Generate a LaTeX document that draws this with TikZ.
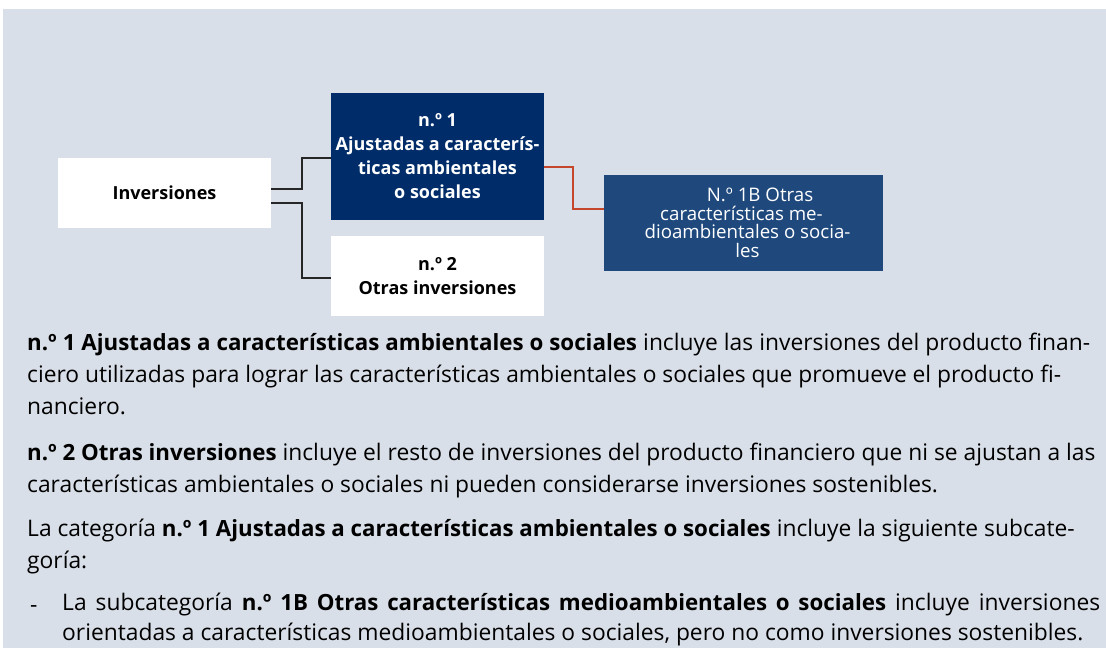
\documentclass[tikz,border=0pt]{standalone}
\usepackage{fontspec}
\setmainfont{Open Sans}
\usepackage{tikz}
\usetikzlibrary{positioning, calc}

\definecolor{fondo}{HTML}{D9DFE8}
\definecolor{marino}{HTML}{002D69}
\definecolor{azul}{HTML}{1F497D}
\definecolor{rojo}{HTML}{C4462B}

\newcommand{\negrita}[1]{{\fontsize{22.3}{32}\selectfont\bfseries #1}}

\begin{document}
\begin{tikzpicture}[x=1pt, y=-1pt,
			caja/.style={rectangle, minimum width=213pt, align=center, inner sep=2pt,
				font=\fontsize{18}{24}\selectfont\bfseries},
			linea/.style={draw=black!85, line width=1.5pt},
			lineaR/.style={draw=rojo, line width=2pt},
			parrafo/.style={anchor=north west, inner sep=0pt, align=left,
				font=\fontsize{22.8}{32}\selectfont, execute at begin node=\strut} ]
			\useasboundingbox (0,0) rectangle (1106,648);
			\fill[fondo] (3,9) rectangle (1106,648);

			\node[caja, fill=white, minimum height=70pt] (inv)  at (164.5,193)  {Inversiones};
			\node[caja, fill=marino, text=white, minimum height=127pt] (n1) at (437.5,156.5)
				{n.º 1\\Ajustadas a caracterís-\\ticas ambientales\\o sociales};
			\node[caja, fill=white, minimum height=80pt] (n2) at (437.5,276)
				{n.º 2\\Otras inversiones};
			\node[caja, fill=azul, text=white, minimum width=279pt, minimum height=96pt,
				font=\fontsize{18.7}{18.5}\selectfont] (n1b) at (743.5,223)
				{\rule{33pt}{0pt}N.º 1B Otras\\características me-\rule{4pt}{0pt}\\\rule{8pt}{0pt}dioambientales o socia-\\\rule{8pt}{0pt}les};

			%conectores
			\draw[linea] ([yshift=4pt]inv.east) -- ++(31,0) |- ([yshift=-1.5pt]n1.west);
			\draw[linea] ([yshift=-10pt]inv.east) -- ++(31,0) |- ([yshift=-2pt]n2.west);
			\draw[lineaR] ([yshift=-10.5pt]n1.east) -- ++(29,0) |- ([yshift=14pt]n1b.west);

			%texto
			\node[parrafo] (p1) at (27,332.6) {\makebox[1063pt][s]{\negrita{n.º 1 Ajustadas a características ambientales o sociales} incluye las inversiones del producto finan-}\\ciero utilizadas para lograr las características ambientales o sociales que promueve el producto fi-\\nanciero.};
			\node[parrafo] (p2) at (27,442.6) {\negrita{n.º 2 Otras inversiones} incluye el resto de inversiones del producto financiero que ni se ajustan a las\\características ambientales o sociales ni pueden considerarse inversiones sostenibles.};
			\node[parrafo] (p3) at (27,519.1) {La categoría \negrita{n.º 1 Ajustadas a características ambientales o sociales} incluye la siguiente subcate-\\goría:};
			\node[parrafo] (guion) at (30,589.6) {-};
			\node[parrafo, font=\fontsize{22.8}{30.5}\selectfont] (p4) at (62,592.6) {\makebox[1038pt][s]{La subcategoría \negrita{n.º 1B Otras características medioambientales o sociales} incluye inversiones}\\orientadas a características medioambientales o sociales, pero no como inversiones sostenibles.};
		\end{tikzpicture}
\end{document}
